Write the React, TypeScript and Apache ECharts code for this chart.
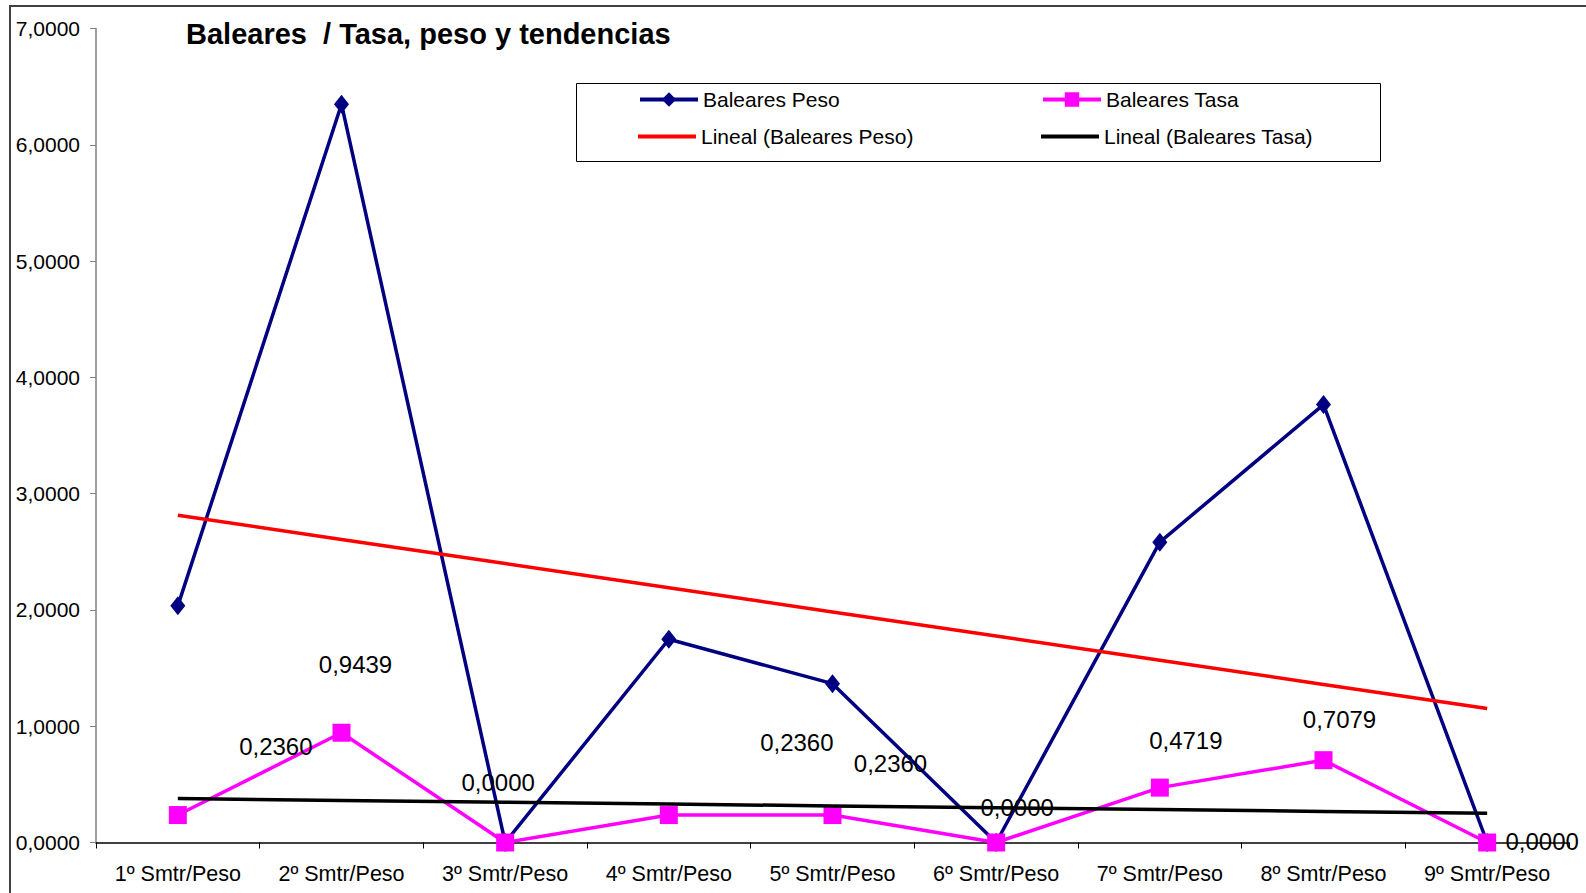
import React, { useEffect, useRef } from "react";
import * as echarts from "echarts";

const categories = [
  "1º Smtr/Peso",
  "2º Smtr/Peso",
  "3º Smtr/Peso",
  "4º Smtr/Peso",
  "5º Smtr/Peso",
  "6º Smtr/Peso",
  "7º Smtr/Peso",
  "8º Smtr/Peso",
  "9º Smtr/Peso",
];
const pesoValues = [2.035, 6.349, 0, 1.748, 1.366, 0, 2.583, 3.766, 0];
const tasaValues = [0.236, 0.9439, 0, 0.236, 0.236, 0, 0.4719, 0.7079, 0];
const seriesNames = [
  "Baleares Peso",
  "Baleares Tasa",
  "Lineal (Baleares Peso)",
  "Lineal (Baleares Tasa)",
];
const titleText = "Baleares  / Tasa, peso y tendencias";
const yMin = 0;
const yMax = 7;
const yInterval = 1;

// label placement (layout, px offsets from each point)
const tasaLabelOffsets = [
  [98, -69],
  [14, -68],
  [-7, -60],
  [128, -73],
  [58, -52],
  [21, -35],
  [26, -47],
  [16, -41],
  [55, -1],
];

const FONT = "'Liberation Sans', Arial, Helvetica, sans-serif";

function linearTrend(values: number[]): number[] {
  const n = values.length;
  const xs = values.map((_, i) => i + 1);
  const mx = xs.reduce((a, b) => a + b, 0) / n;
  const my = values.reduce((a, b) => a + b, 0) / n;
  let sxy = 0;
  let sxx = 0;
  for (let i = 0; i < n; i++) {
    sxy += (xs[i] - mx) * (values[i] - my);
    sxx += (xs[i] - mx) * (xs[i] - mx);
  }
  const slope = sxy / sxx;
  const intercept = my - slope * mx;
  return xs.map((x) => intercept + slope * x);
}

const fmt = (v: number) => v.toFixed(4).replace(".", ",");

export default function App() {
  const ref = useRef<HTMLDivElement>(null);

  useEffect(() => {
    if (!ref.current) return;
    const chart = echarts.init(ref.current, null, { renderer: "svg" });

    const legendCommon = {
      orient: "horizontal",
      padding: 0,
      itemGap: 0,
      itemWidth: 58,
      itemHeight: 18,
      selectedMode: false,
      lineStyle: { width: 4 },
      textStyle: { fontSize: 21, fontFamily: FONT, color: "#000" },
    };
    const trendLegendCommon = {
      ...legendCommon,
      itemHeight: 4,
      icon: "rect",
    };

    const option = {
      animation: false,
      backgroundColor: "#fff",
      title: {
        text: titleText,
        left: 186,
        top: 19,
        padding: 0,
        textStyle: {
          fontSize: 29,
          fontWeight: "bold",
          fontFamily: FONT,
          color: "#000",
        },
      },
      graphic: [
        {
          type: "rect",
          shape: { x: 10, y: 6, width: 1700, height: 1000 },
          style: { fill: "none", stroke: "#404040", lineWidth: 2 },
          silent: true,
          z: -10,
        },
        {
          type: "rect",
          shape: { x: 576.5, y: 83.5, width: 804, height: 78 },
          style: { fill: "#fff", stroke: "#000", lineWidth: 1 },
          silent: true,
          z: -5,
        },
      ],
      legend: [
        { ...legendCommon, data: [seriesNames[0]], left: 638, top: 89 },
        { ...legendCommon, data: [seriesNames[1]], left: 1041, top: 89 },
        { ...trendLegendCommon, data: [seriesNames[2]], left: 638, top: 126 },
        { ...trendLegendCommon, data: [seriesNames[3]], left: 1041, top: 126 },
      ],
      grid: { left: 96, right: 17, top: 28.5, bottom: 50.5, containLabel: false },
      xAxis: {
        type: "category",
        data: categories,
        boundaryGap: true,
        axisLine: { lineStyle: { color: "#000", width: 1.5 } },
        axisTick: { show: true, length: 6, lineStyle: { color: "#000" } },
        axisLabel: {
          margin: 20,
          fontSize: 21.5,
          fontFamily: FONT,
          color: "#000",
          interval: 0,
        },
        splitLine: { show: false },
      },
      yAxis: {
        type: "value",
        min: yMin,
        max: yMax,
        interval: yInterval,
        axisLine: { show: true, lineStyle: { color: "#808080", width: 1.5 } },
        axisTick: { show: true, length: 6, lineStyle: { color: "#808080" } },
        axisLabel: {
          margin: 16,
          fontSize: 21,
          fontFamily: FONT,
          color: "#000",
          formatter: (v: number) => fmt(v),
        },
        splitLine: { show: false },
      },
      series: [
        {
          name: seriesNames[0],
          type: "line",
          data: pesoValues,
          symbol: "diamond",
          symbolSize: [15, 19],
          itemStyle: { color: "#000080" },
          lineStyle: { color: "#000080", width: 3.5 },
          z: 3,
        },
        {
          name: seriesNames[1],
          type: "line",
          data: tasaValues.map((v, i) => ({
            value: v,
            label: {
              show: true,
              position: "inside",
              offset: tasaLabelOffsets[i],
            },
          })),
          symbol: "rect",
          symbolSize: 18,
          itemStyle: { color: "#FF00FF" },
          lineStyle: { color: "#FF00FF", width: 3.5 },
          label: {
            show: true,
            position: "inside",
            fontSize: 24,
            fontFamily: FONT,
            color: "#000",
            formatter: (p: any) => fmt(p.value),
          },
          z: 4,
        },
        {
          name: seriesNames[2],
          type: "line",
          data: linearTrend(pesoValues),
          symbol: "none",
          itemStyle: { color: "#FF0000" },
          lineStyle: { color: "#FF0000", width: 3.5 },
          z: 5,
        },
        {
          name: seriesNames[3],
          type: "line",
          data: linearTrend(tasaValues),
          symbol: "none",
          itemStyle: { color: "#000000" },
          lineStyle: { color: "#000000", width: 3.5 },
          z: 5,
        },
      ],
    };

    chart.setOption(option as any);
    return () => chart.dispose();
  }, []);

  return (
    <div
      ref={ref}
      style={{ position: "fixed", left: 0, top: 0, width: 1586, height: 893 }}
    />
  );
}
